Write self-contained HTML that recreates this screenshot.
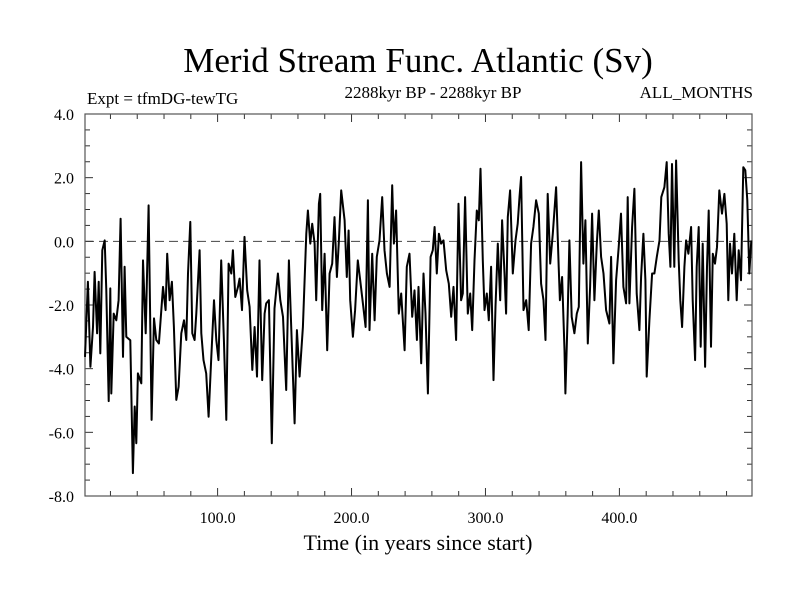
<!DOCTYPE html>
<html><head><meta charset="utf-8"><style>
body{margin:0;background:#fff;}
svg{display:block;font-family:"Liberation Serif",serif;}
</style></head><body>
<svg id="chart" width="800" height="600">
<text x="418" y="72" font-size="35" text-anchor="middle">Merid Stream Func. Atlantic (Sv)</text>
<text x="87" y="104" font-size="17">Expt = tfmDG-tewTG</text>
<text x="433" y="98" font-size="17" text-anchor="middle">2288kyr BP - 2288kyr BP</text>
<text x="753" y="98" font-size="17" text-anchor="end">ALL_MONTHS</text>
<text x="418" y="550" font-size="22" text-anchor="middle">Time (in years since start)</text>
<g id="axes"></g>
<g id="series"></g>
</svg>
<script>
const years = [1,3.2,5,7,8.2,10,11.2,12.4,13.9,15.7,16.9,18.7,19.9,20.6,22.4,24.4,26.1,27.6,29.4,30.6,31.8,34.8,36.8,38.1,39.3,40.5,43,44.3,46.3,48.5,50.7,52.5,54.2,56.2,59.2,61.2,62.4,64.2,65.9,67.4,69.2,70.9,72.9,74.9,76.6,77.9,79.6,81.1,82.8,84.1,86.6,87.8,89.5,91.5,93.3,95.3,97.3,99,100.7,102.7,104.7,106.5,108.2,110.2,111.4,113.2,115.2,116.4,118.2,120.1,122.1,123.9,125.9,127.6,129.4,131.3,133.3,135.1,136.3,138.3,140.5,142.5,145,146.8,148.8,151.2,153.2,155.5,157.5,159.2,161.2,163.7,166.2,167.4,169.2,170.6,172.4,173.6,175.6,
176.6,178.1,179.9,181.8,183.6,185.6,187.3,189.1,190.6,192.3,194.8,196.5,197.8,199,201,202.7,204.7,206.5,208.5,210.5,212.2,213.4,215.4,217.2,218.9,220.9,222.9,224.6,226.4,228.4,230.4,231.6,233.3,235.3,237.1,239.6,241.3,243.3,245.3,247,248.8,250,252,253.7,255.2,257,259,260.7,262,263.7,265.2,266.9,268.7,270.7,272.6,274.4,276.1,278.1,279.9,281.8,283.1,284.8,286.8,288.6,290.1,291.8,293.5,295,296.3,298,299.3,301,302.5,304.2,306,307.5,309.2,311,312.4,314.2,315.4,316.7,318.4,320.4,322.4,324.1,325.4,326.6,328.4,330.4,332.3,334.1,335.8,337.8,339.8,341.5,343.3,344.8,346.5,348.3,350.3,352.7,354.7,
355.6,357.2,359,359.7,361.4,362.7,364.4,366.4,368.2,369.7,371.4,373.1,374.6,376.4,378.1,379.6,381.3,383.1,384.6,386.3,388.1,390.1,392.5,393.8,395.5,397.5,399.5,401.2,403,405,406.2,407.5,409.5,411.2,412.9,414.9,416.2,417.9,419.4,420.4,422.4,424.4,426.1,427.9,429.9,431.3,433.6,435.3,436.8,438.1,439.3,441,442.3,444.3,445.5,446.8,448.5,449.8,451.5,453.5,454.7,456.5,457.7,459.2,460.7,462.2,464,465.4,466.7,468.4,469.7,471.4,472.9,474.6,476.6,478.4,480.1,481.3,482.6,484.1,485.8,487.6,489.1,490.8,492.5,494,495.5,497,498.5];
const values = [-3.63,-1.27,-3.94,-2.69,-0.96,-2.89,-1.27,-3.52,-0.28,0.03,-1.54,-5.02,-1.48,-4.78,-2.27,-2.48,-1.85,0.71,-3.63,-0.8,-3,-3.11,-7.28,-5.19,-6.34,-4.15,-4.46,-0.6,-2.89,1.13,-5.61,-2.42,-3.1,-3.21,-1.43,-2.16,-0.39,-1.85,-1.27,-2.69,-4.98,-4.57,-2.89,-2.48,-3.1,-1.01,0.61,-2.89,-3.1,-2.27,-0.28,-2.89,-3.73,-4.15,-5.51,-3.63,-1.85,-3.1,-3.73,-0.6,-3.1,-5.61,-0.7,-1.01,-0.28,-1.75,-1.43,-1.17,-2.16,0.14,-1.54,-2.06,-4.04,-2.69,-4.25,-0.6,-4.36,-2.27,-1.95,-1.85,-6.34,-2.11,-1.01,-1.85,-2.37,-4.67,-0.6,-3.31,-5.72,-2.79,-4.25,-2.69,0.24,0.97,-0.07,0.55,-0.07,-1.85,1.18,
1.49,-2.16,-0.39,-3.42,-1.01,-0.7,0.76,-1.12,0.03,1.6,0.66,-1.12,0.34,-1.85,-3,-2.16,-0.6,-1.22,-1.95,-2.69,1.29,-2.79,-0.39,-2.48,-0.49,0.03,1.39,-0.28,-1.01,-1.43,1.76,-0.07,0.97,-2.27,-1.64,-3.42,-0.8,-0.39,-2.37,-1.54,-3.1,-1.43,-3.83,-1.01,-2.27,-4.78,-0.49,-0.28,0.45,-1.01,0.24,-0.07,0.03,-0.91,-1.33,-2.37,-1.43,-3.1,1.18,-1.85,-1.64,1.39,-2.27,-1.64,-2.79,-0.6,0.97,0.66,2.28,-0.6,-2.16,-1.64,-2.48,-0.8,-4.36,-2.06,-0.07,-1.85,0.66,-1.01,-2.27,0.76,1.6,-1.01,0.03,0.55,1.39,2.02,-2.16,-1.85,-2.79,-0.07,0.45,1.29,0.87,-1.33,-1.85,-3.1,1.49,-0.7,0.24,1.7,-0.8,
-1.85,-1.12,-3.42,-4.78,-2.27,0.03,-2.37,-2.89,-2.27,-2.06,2.49,-0.7,0.66,-3.21,-1.43,0.87,-1.85,-0.07,0.97,-0.49,-1.01,-2.16,-2.58,-0.49,-3.83,-1.22,-0.18,0.87,-1.43,-1.95,1.39,-1.95,0.45,1.65,-1.64,-2.79,-1.12,0.24,-1.22,-4.25,-2.48,-1.01,-1.01,-0.49,0.03,1.39,1.7,2.49,0.24,-0.8,2.43,-0.8,2.54,-0.6,-1.85,-2.69,-0.8,0.03,-0.39,0.45,-1.85,-3.73,-0.8,0.45,-3.31,-0.07,-3.94,-0.8,0.97,-3.31,-0.39,-0.7,-0.18,1.6,0.87,1.49,0.55,-1.85,-0.07,-1.01,0.24,-1.85,-0.28,-1.22,2.33,2.23,1.29,-1.01,0.03];
const yTickValues = [4,2,0,-2,-4,-6,-8];
const yTickLabels = ["4.0","2.0","0.0","-2.0","-4.0","-6.0","-8.0"];
const xTickValues = [100,200,300,400];
const xTickLabels = ["100.0","200.0","300.0","400.0"];

const L=85,R=752,T=114,B=496, xMin=1, xMax=499, yMin=-8, yMax=4;
const sx=v=>L+(v-xMin)/(xMax-xMin)*(R-L);
const sy=v=>B-(v-yMin)/(yMax-yMin)*(B-T);
const NS="http://www.w3.org/2000/svg";
const axes=document.getElementById('axes');
function mk(tag,attrs,parent){const e=document.createElementNS(NS,tag);for(const k in attrs)e.setAttribute(k,attrs[k]);parent.appendChild(e);return e;}

const zl=mk('line',{x1:L,x2:R,y1:sy(0),y2:sy(0),stroke:'#444','stroke-width':1,'stroke-dasharray':'9,5'},axes);



for(let v=-8;v<=4.001;v+=0.5){
  const major=Math.abs(v-Math.round(v/2)*2)<1e-6; const len=major?8:5;
  const t1=mk('line',{x1:L,x2:L+len,y1:sy(v),y2:sy(v),stroke:'#333','stroke-width':1},axes);
  
  
  const t2=mk('line',{x1:R-len,x2:R,y1:sy(v),y2:sy(v),stroke:'#333','stroke-width':1},axes);
  
  
}
for(let v=20;v<xMax;v+=20){
  const major=v%100===0; const len=major?8:5;
  const t1=mk('line',{x1:sx(v),x2:sx(v),y1:B,y2:B-len,stroke:'#333','stroke-width':1},axes);
  
  
  const t2=mk('line',{x1:sx(v),x2:sx(v),y1:T,y2:T+len,stroke:'#333','stroke-width':1},axes);
  
  
}
yTickValues.forEach((v,i)=>{
  const t=mk('text',{x:74,y:sy(v)+6,'font-size':16,'text-anchor':'end'},axes);
  t.textContent=yTickLabels[i];
  
  
});
xTickValues.forEach((v,i)=>{
  const t=mk('text',{x:sx(v),y:523,'font-size':16,'text-anchor':'middle'},axes);
  t.textContent=xTickLabels[i];
  
  
});
const fr=mk('rect',{x:L,y:T,width:R-L,height:B-T,fill:'none',stroke:'#555','stroke-width':1.2},axes);



const d=years.map((y,i)=>(i?'L':'M')+sx(y).toFixed(1)+','+sy(values[i]).toFixed(1)).join('');
const line=mk('path',{d:d,fill:'none',stroke:'#000','stroke-width':2,'stroke-linejoin':'round'},document.getElementById('series'));


</script>
</body></html>
